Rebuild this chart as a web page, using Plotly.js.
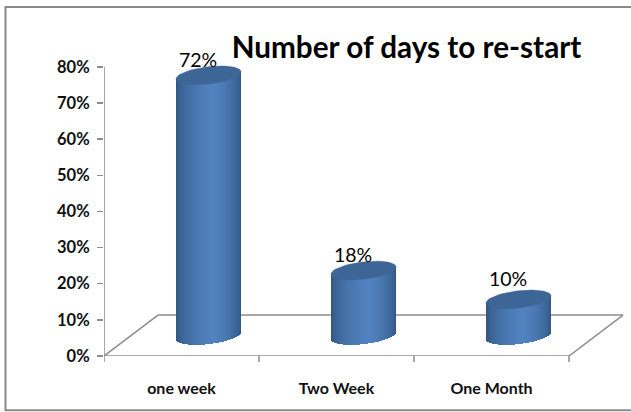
<!DOCTYPE html>
<html><head><meta charset="utf-8">
<script src="https://cdn.plot.ly/plotly-3.0.1.min.js"></script>
<style>html,body{margin:0;padding:0;background:#fff}#c{width:631px;height:412px}</style>
</head><body><div id="c"></div>
<script>
const categories = ['one week', 'Two Week', 'One Month'];
const values = [72, 18, 10];
const labels = ['72%', '18%', '10%'];
const labelShift = [13, 13, 18];
const yTicks = [0, 10, 20, 30, 40, 50, 60, 70, 80];
const yTickLabels = ['0%', '10%', '20%', '30%', '40%', '50%', '60%', '70%', '80%'];

const W = 631, H = 412;
const yMax = 96;
const L = 104, R = 628, B = 356.5, T = B - yMax * 3.625;
const catPx = 155;
const pxX = 1 / catPx, pxY = 1 / 3.625;
const xMin = -0.5, xMax = xMin + (R - L) * pxX;
const depthX = 54 * pxX, depthY = 41 * pxY;
const a = 32.5, b = 8.6, s = 3.6;          // cylinder ellipse, px
const strips = 65;
const mix = (c1, c2, t) => 'rgb(' + c1.map((v, i) => Math.round(v + (c2[i] - v) * t)).join(',') + ')';
const dark = [45, 80, 122], mid = [82, 132, 194];
function shade(u) {
  const c = 0.15;
  const t = u < c ? (u + 1) / (c + 1) : (1 - u) / (1 - c);
  return mix(dark, mid, Math.pow(t, 0.5));
}
const traces = [];
const cx = i => i + depthX / 2;
const cy = v => v + depthY / 2;
for (let k = 0; k < strips; k++) {
  const u = (k + 0.5) / strips * 2 - 1;
  const hw = Math.sqrt(1 - u * u);
  const base = values.map(() => cy(0) + (s * u - b * hw) * pxY);
  const tops = values.map(v => cy(v) + s * u * pxY);
  traces.push({
    type: 'bar', x: categories.map((_, i) => cx(i) + u * a * pxX),
    y: tops.map((t, i) => t - base[i]), base: base,
    width: (2 * a / strips + 0.4) * pxX,
    marker: { color: shade(u), line: { width: 0 } },
    hoverinfo: 'skip', showlegend: false
  });
}
values.forEach((v, i) => {
  const xs = [], ys = [];
  for (let d = 0; d <= 360; d += 6) {
    const t = d * Math.PI / 180, ca = Math.cos(t);
    xs.push(cx(i) + a * ca * pxX);
    ys.push(cy(v) + (b * Math.sin(t) + s * ca) * pxY);
  }
  traces.push({
    type: 'scatter', mode: 'lines', x: xs, y: ys, fill: 'toself',
    fillcolor: '#3d6596', line: { color: '#3d6596', width: 0.5 },
    hoverinfo: 'skip', showlegend: false
  });
});
traces.push({
  type: 'scatter', mode: 'text', x: categories.map((_, i) => cx(i) - 10.5 * pxX),
  y: values.map((v, i) => cy(v) + labelShift[i] * pxY), text: labels,
  textposition: 'middle center', cliponaxis: false,
  textfont: { family: 'Lato, Carlito, sans-serif', size: 19.5, color: '#000' },
  hoverinfo: 'skip', showlegend: false
});
const gridCol = '#8c8c8c';
const seg = (x0, y0, x1, y1) => ({ type: 'line', layer: 'below', xref: 'x', yref: 'y', x0, y0, x1, y1, line: { color: gridCol, width: 1.5 } });
const x0 = xMin, x3 = xMin + 3;
const px = v => (v - L) / (R - L), py = v => (B - v) / (B - T);
const tick = x => ({ type: 'line', layer: 'below', xref: 'x', yref: 'paper', x0: x, x1: x, y0: py(B), y1: py(B + 6), line: { color: gridCol, width: 1.5 } });
const shapes = [
  seg(x0, 0, x0, 80),
  seg(x0, 0, x3, 0),
  seg(x0, 0, x0 + depthX, depthY),
  seg(x3, 0, x3 + depthX, depthY),
  seg(x0 + depthX, depthY, x3 + depthX, depthY),
  tick(x0), tick(x0 + 1), tick(x0 + 2), tick(x3),
  { type: 'path', xref: 'paper', yref: 'paper', layer: 'below',
    path: 'M' + px(631) + ' ' + py(6.5) + ' L' + px(5.5) + ' ' + py(6.5) + ' L' + px(5.5) + ' ' + py(411) + ' L' + px(631) + ' ' + py(411),
    line: { color: '#8a8a8a', width: 2 } }
];
Plotly.newPlot('c', traces, {
  width: W, height: H,
  margin: { l: L, r: W - R, t: T, b: H - B, pad: 0 },
  paper_bgcolor: '#fff', plot_bgcolor: 'rgba(0,0,0,0)',
  barmode: 'overlay', bargap: 0, showlegend: false,
  title: { text: 'Number of days to re-start', x: 406.5 / W, xanchor: 'center', y: 1 - 48 / H, yanchor: 'middle',
    font: { family: 'Lato, Carlito, sans-serif', size: 29.7, color: '#000', weight: 700 } },
  xaxis: { type: 'linear', range: [xMin, xMax], showgrid: false, zeroline: false, showline: false,
    tickmode: 'array', tickvals: categories.map((_, i) => i), ticktext: categories, ticks: '',
    ticklabelstandoff: 21,
    tickfont: { family: 'Lato, Carlito, sans-serif', size: 16, color: '#111', weight: 700 }, fixedrange: true },
  yaxis: { range: [0, yMax], showgrid: false, zeroline: false, showline: false,
    tickmode: 'array', tickvals: yTicks, ticktext: yTickLabels, ticks: 'outside', ticklen: 6, tickwidth: 1.5, tickcolor: gridCol,
    ticklabelstandoff: 4,
    tickfont: { family: 'Lato, Carlito, sans-serif', size: 16.5, color: '#111', weight: 700 }, fixedrange: true },
  shapes: shapes
}, { displayModeBar: false, staticPlot: true });
</script></body></html>
